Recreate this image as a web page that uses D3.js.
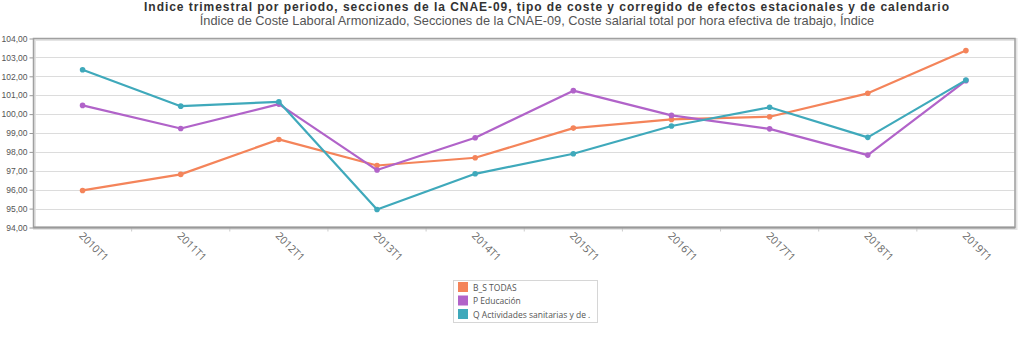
<!DOCTYPE html>
<html><head><meta charset="utf-8">
<script src="https://cdn.jsdelivr.net/npm/d3@7"></script>
<style>body{margin:0;background:#fff;}svg{display:block;}</style>
</head><body>
<svg id="c" width="1024" height="344"></svg>
<script>
const categories = ["2010T1","2011T1","2012T1","2013T1","2014T1","2015T1","2016T1","2017T1","2018T1","2019T1"];
const seriesNames = ["B_S TODAS","P Educación","Q Actividades sanitarias y de ."];
const bsTodas = [95.96,96.81,98.66,97.28,97.69,99.26,99.72,99.86,101.10,103.36];
const pEducacion = [100.46,99.24,100.53,97.04,98.75,101.24,99.93,99.22,97.83,101.77];
const qSanitarias = [102.35,100.42,100.65,94.95,96.84,97.90,99.37,100.36,98.77,101.80];
const colors = ["#f4845a","#b163c9","#3fa9bb"];
const yTicks = [94,95,96,97,98,99,100,101,102,103,104];
const title = "Indice trimestral por periodo, secciones de la CNAE-09, tipo de coste y corregido de efectos estacionales y de calendario";
const subtitle = "Índice de Coste Laboral Armonizado, Secciones de la CNAE-09, Coste salarial total por hora efectiva de trabajo, Índice";

const series = [bsTodas, pEducacion, qSanitarias];
const svg = d3.select("#c");
const L = 33.5, R = 1015, T = 38.5, B = 227.5;
const x = d3.scaleBand().domain(categories).range([L, R]);
const y = d3.scaleLinear().domain([94,104]).range([B, T]);
const fmt = v => d3.format(".2f")(v).replace(".", ",");

svg.append("text").attr("x",547).attr("y",11).attr("text-anchor","middle")
  .attr("font-family","Liberation Sans, Arial, sans-serif").attr("font-weight","bold")
  .attr("font-size",12).attr("letter-spacing","0.95px").attr("fill","#333").text(title);
svg.append("text").attr("x",537).attr("y",25).attr("text-anchor","middle")
  .attr("font-family","Liberation Sans, Arial, sans-serif")
  .attr("font-size",12.8).attr("fill","#555").text(subtitle);

// shadow
svg.append("rect").attr("x",L+1).attr("y",T+1).attr("width",R-L).attr("height",B-T)
  .attr("fill","none").attr("stroke","#e4e4e4").attr("stroke-width",3);

// grid
svg.append("g").selectAll("line").data(yTicks.slice(1,-1)).join("line")
  .attr("x1",L).attr("x2",R).attr("y1",d=>Math.round(y(d))+0.5).attr("y2",d=>Math.round(y(d))+0.5)
  .attr("stroke","#dcdcdc").attr("stroke-width",1);

// y axis
const ya = svg.append("g").attr("transform",`translate(${L},0)`)
  .call(d3.axisLeft(y).tickValues(yTicks).tickFormat(fmt).tickSize(4).tickPadding(2));
ya.select(".domain").remove();
ya.selectAll("line").attr("stroke","#999");
ya.selectAll("text").attr("font-family","Liberation Sans, Arial, sans-serif").attr("font-size",8.5).attr("fill","#555");

// x axis
const xa = svg.append("g").attr("transform",`translate(0,${B})`);
const bounds = categories.map(c => x(c)).concat([R]);
xa.selectAll("line").data(bounds.slice(1,-1)).join("line")
  .attr("x1",d=>d).attr("x2",d=>d).attr("y1",0).attr("y2",4).attr("stroke","#ccc");
xa.selectAll("text").data(categories).join("text")
  .attr("transform",d=>`translate(${x(d)+x.bandwidth()/2-4},${9}) rotate(45)`)
  .attr("font-family","Open Sans, sans-serif").attr("font-size",10.5).attr("fill","#666")
  .text(d=>d);

// border
svg.append("rect").attr("x",L).attr("y",T).attr("width",R-L).attr("height",B-T)
  .attr("fill","none").attr("stroke","#a0a0a0").attr("stroke-width",1.5);
svg.append("line").attr("x1",L).attr("x2",R).attr("y1",B).attr("y2",B).attr("stroke","#999").attr("stroke-width",2);

// lines
const line = d3.line().x((d,i)=>x(categories[i])+x.bandwidth()/2).y(d=>y(d));
series.forEach((s,k)=>{
  svg.append("path").datum(s).attr("d",line).attr("fill","none")
    .attr("stroke",colors[k]).attr("stroke-width",2.2).attr("stroke-linejoin","round");
  svg.append("g").selectAll("circle").data(s).join("circle")
    .attr("cx",(d,i)=>x(categories[i])+x.bandwidth()/2).attr("cy",d=>y(d)).attr("r",2.8)
    .attr("fill",colors[k]);
});

// legend
const lg = svg.append("g");
lg.append("rect").attr("x",453.5).attr("y",280.5).attr("width",144).attr("height",42)
  .attr("fill","#fff").attr("stroke","#d6d6d6");
seriesNames.forEach((n,k)=>{
  lg.append("rect").attr("x",458).attr("y",282+k*13.5).attr("width",10).attr("height",10).attr("fill",colors[k]);
  lg.append("text").attr("x",473).attr("y",290.5+k*13.5)
    .attr("font-family","Open Sans, sans-serif").attr("font-size",8.5).attr("fill","#555").text(n);
});
</script>
</body></html>
